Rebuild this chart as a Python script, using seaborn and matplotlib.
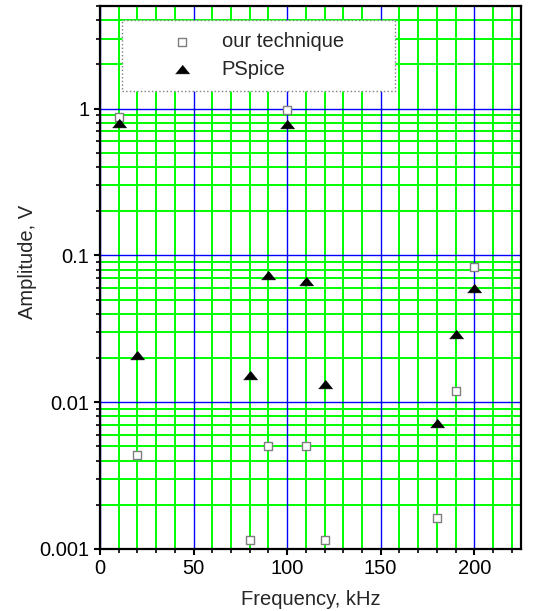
import numpy as np
import pandas as pd
import matplotlib
matplotlib.use("Agg")
import matplotlib.pyplot as plt
import matplotlib.ticker as mticker
import seaborn as sns

# ---- data ----
freq_ours = [10, 20, 80, 90, 100, 110, 120, 180, 190, 200]
amp_ours = [0.87, 0.0044, 0.00116, 0.0050, 0.98, 0.0050, 0.00116, 0.00162, 0.0119, 0.083]
freq_pspice = [10, 20, 80, 90, 100, 110, 120, 180, 190, 200]
amp_pspice = [0.80, 0.021, 0.0153, 0.073, 0.78, 0.067, 0.0133, 0.0072, 0.0293, 0.060]
label_ours = "our technique"
label_pspice = "PSpice"
x_ticks = [0, 50, 100, 150, 200]
x_tick_labels = ["0", "50", "100", "150", "200"]
y_ticks = [0.001, 0.01, 0.1, 1]
y_tick_labels = ["0.001", "0.01", "0.1", "1"]
x_label = "Frequency, kHz"
y_label = "Amplitude, V"

sns.set_style("white")
plt.rcParams["font.family"] = ["Liberation Sans", "DejaVu Sans"]
FS = 14.5

fig = plt.figure(figsize=(5.38, 6.11), dpi=100)
ax = fig.add_axes([100 / 538, 62 / 611, 421 / 538, 543 / 611])

df_o = pd.DataFrame({"f": freq_ours, "a": amp_ours})
df_p = pd.DataFrame({"f": freq_pspice, "a": amp_pspice})

tri = [(-1, -0.62), (1, -0.62), (0, 0.62)]
sns.scatterplot(data=df_o, x="f", y="a", marker="s", s=30, facecolor="white",
                edgecolor="#7f7f7f", linewidth=1.0, label=label_ours, ax=ax, zorder=3)
sns.scatterplot(data=df_p, x="f", y="a", marker=tri, s=100, color="black",
                edgecolor="black", linewidth=0.5, label=label_pspice, ax=ax, zorder=4)

ax.set_yscale("log")
ax.set_xlim(0, 225)
ax.set_ylim(0.001, 5)

ax.xaxis.set_major_locator(mticker.FixedLocator(x_ticks))
ax.xaxis.set_major_formatter(mticker.FixedFormatter(x_tick_labels))
ax.xaxis.set_minor_locator(mticker.MultipleLocator(10))
ax.yaxis.set_major_locator(mticker.FixedLocator(y_ticks))
ax.yaxis.set_major_formatter(mticker.FixedFormatter(y_tick_labels))
ax.yaxis.set_minor_locator(mticker.LogLocator(base=10, subs=np.arange(2, 10)))
ax.yaxis.set_minor_formatter(mticker.NullFormatter())

ax.set_axisbelow(True)
ax.grid(which="minor", color="#00ff00", linewidth=1.4)
ax.grid(which="major", visible=False)
for xv in ax.get_xticks():
    ax.axvline(xv, color="#0000ff", linewidth=1.0, zorder=0.8)
for yv in ax.get_yticks():
    ax.axhline(yv, color="#0000ff", linewidth=1.0, zorder=0.8)

ax.tick_params(which="major", direction="out", length=4.5, width=1.5, labelsize=FS,
               colors="black", pad=3, bottom=True, left=True)
ax.tick_params(which="minor", direction="out", length=3, width=1.2,
               colors="black", bottom=True, left=True)
for sp in ax.spines.values():
    sp.set_visible(True)
    sp.set_color("black")
    sp.set_linewidth(1.6)

ax.set_xlabel(x_label, fontsize=FS, labelpad=8)
ax.set_ylabel(y_label, fontsize=FS)
ax.yaxis.set_label_coords(-0.15, 0.528)

leg = ax.legend(loc="upper left", bbox_to_anchor=(0.052, 0.974, 0.648, 0.0),
                mode="expand", fontsize=FS, frameon=True, fancybox=False,
                borderpad=0.6, handlelength=4.8, handletextpad=-0.45,
                labelspacing=0.42, borderaxespad=0)
fr = leg.get_frame()
fr.set_edgecolor("#808080")
fr.set_linestyle(":")
fr.set_linewidth(1.0)
fr.set_alpha(1)

fig.savefig("out.png", dpi=100)
